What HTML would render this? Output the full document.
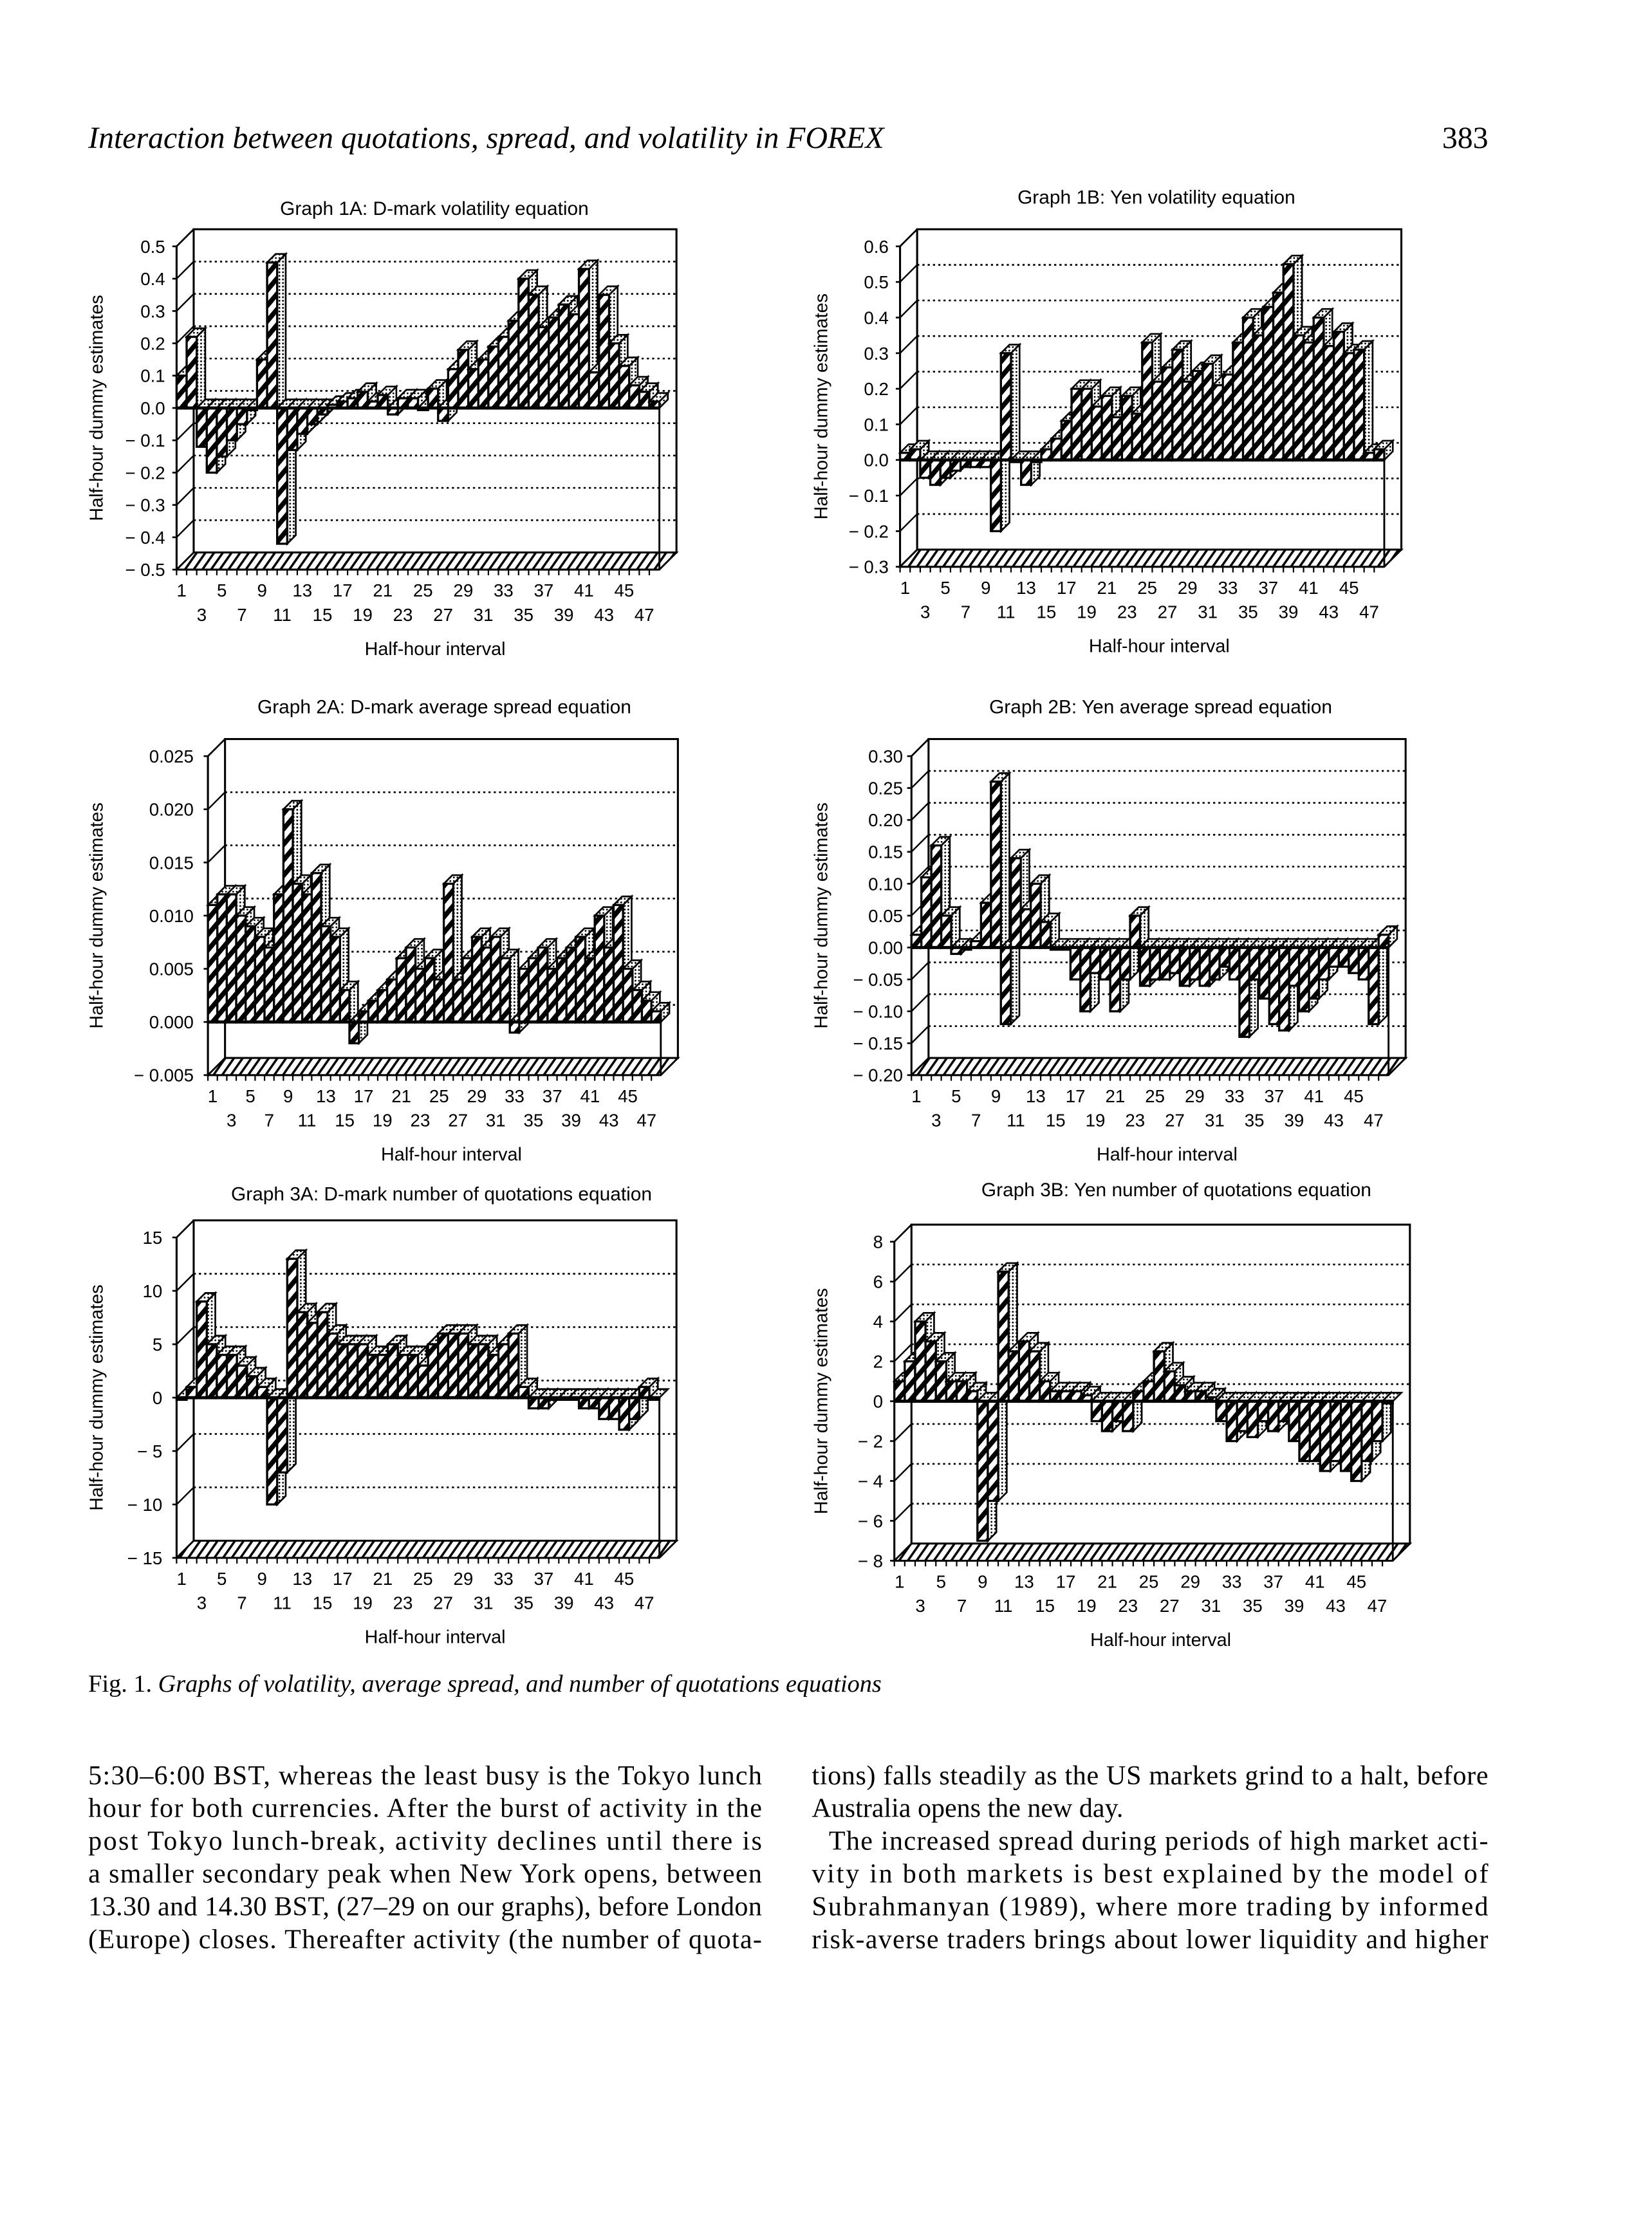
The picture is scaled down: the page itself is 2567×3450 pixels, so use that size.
<!DOCTYPE html>
<html><head><meta charset="utf-8"><style>
html,body{margin:0;padding:0;background:#fff}
svg{display:block}
</style></head><body>
<svg id="pg" xmlns="http://www.w3.org/2000/svg" width="2567" height="3450" viewBox="0 0 1160 1559" preserveAspectRatio="none" font-family="'Liberation Sans', sans-serif">
<defs>
<pattern id="hatch" patternUnits="userSpaceOnUse" width="7" height="7" patternTransform="rotate(40)">
<rect width="7" height="7" fill="#fff"/><rect x="0" y="0" width="3.4" height="7" fill="#000"/></pattern>
<pattern id="dots" patternUnits="userSpaceOnUse" width="2.5" height="2.5">
<rect width="2.5" height="2.5" fill="#fff"/><circle cx="1.2" cy="1.2" r="0.65" fill="#000"/></pattern>
<pattern id="floor" patternUnits="userSpaceOnUse" width="5" height="5" patternTransform="rotate(35)">
<rect width="5" height="5" fill="#fff"/><rect width="1.6" height="5" fill="#000"/></pattern>
</defs>
<g font-family="'Liberation Serif', serif" font-size="21.6">
<text x="62" y="104" font-style="italic">Interaction between quotations, spread, and volatility in FOREX</text>
<text x="1045" y="104" text-anchor="end">383</text>
</g>
<g id="charts"></g>
<text x="62" y="1188" font-family="'Liberation Serif', serif" font-size="17.3">Fig. 1. <tspan font-style="italic">Graphs of volatility, average spread, and number of quotations equations</tspan></text>
<g font-family="'Liberation Serif', serif" font-size="19">
<text x="62" y="1253" textLength="473" lengthAdjust="spacing">5:30–6:00 BST, whereas the least busy is the Tokyo lunch</text>
<text x="62" y="1276" textLength="473" lengthAdjust="spacing">hour for both currencies. After the burst of activity in the</text>
<text x="62" y="1299" textLength="473" lengthAdjust="spacing">post Tokyo lunch-break, activity declines until there is</text>
<text x="62" y="1322" textLength="473" lengthAdjust="spacing">a smaller secondary peak when New York opens, between</text>
<text x="62" y="1345" textLength="473" lengthAdjust="spacing">13.30 and 14.30 BST, (27–29 on our graphs), before London</text>
<text x="62" y="1368" textLength="473" lengthAdjust="spacing">(Europe) closes. Thereafter activity (the number of quota-</text>
<text x="570" y="1253" textLength="475" lengthAdjust="spacing">tions) falls steadily as the US markets grind to a halt, before</text>
<text x="570" y="1276">Australia opens the new day.</text>
<text x="582" y="1299" textLength="463" lengthAdjust="spacing">The increased spread during periods of high market acti-</text>
<text x="570" y="1322" textLength="475" lengthAdjust="spacing">vity in both markets is best explained by the model of</text>
<text x="570" y="1345" textLength="475" lengthAdjust="spacing">Subrahmanyan (1989), where more trading by informed</text>
<text x="570" y="1368" textLength="475" lengthAdjust="spacing">risk-averse traders brings about lower liquidity and higher</text>
</g>
</svg>
<script>
const intervals = Array.from({length:48},(_,i)=>i+1);
const volDM = [0.1,0.22,-0.12,-0.2,-0.15,-0.1,-0.05,0.0,0.15,0.45,-0.42,-0.13,-0.08,-0.05,-0.02,0.01,0.02,0.03,0.05,0.02,0.04,-0.02,0.03,0.03,0.0,0.06,-0.04,0.12,0.18,0.12,0.15,0.19,0.22,0.27,0.4,0.35,0.25,0.28,0.32,0.29,0.43,0.11,0.35,0.2,0.13,0.07,0.05,0.02];
const volYen = [0.02,0.03,-0.05,-0.07,-0.05,-0.03,-0.02,-0.02,-0.02,-0.2,0.3,0.0,-0.07,0.0,0.03,0.06,0.11,0.2,0.2,0.15,0.18,0.12,0.18,0.13,0.33,0.22,0.26,0.31,0.22,0.25,0.27,0.21,0.24,0.33,0.4,0.35,0.43,0.47,0.55,0.35,0.33,0.4,0.32,0.36,0.3,0.31,0.02,0.03];
const sprDM = [0.011,0.012,0.012,0.010,0.009,0.008,0.007,0.012,0.020,0.013,0.012,0.014,0.009,0.008,0.003,-0.002,0.001,0.002,0.003,0.004,0.006,0.007,0.005,0.006,0.004,0.013,0.004,0.006,0.008,0.007,0.008,0.006,-0.001,0.005,0.006,0.007,0.005,0.006,0.007,0.008,0.006,0.010,0.007,0.011,0.005,0.003,0.002,0.001];
const sprYen = [0.02,0.11,0.16,0.05,-0.01,0.0,0.01,0.07,0.26,-0.12,0.14,0.06,0.10,0.04,0.0,0.0,-0.05,-0.10,-0.04,-0.05,-0.10,-0.05,0.05,-0.06,-0.05,-0.05,-0.04,-0.06,-0.05,-0.06,-0.05,-0.03,-0.05,-0.14,-0.05,-0.08,-0.12,-0.13,-0.06,-0.10,-0.08,-0.05,-0.03,-0.03,-0.04,-0.05,-0.12,0.02];
const quoDM = [0,1,9,5,4,4,3,2,1,-10,-7,13,8,7,8,6,5,5,5,4,4,5,4,4,3,5,6,6,6,5,5,4,5,6,1,-1,-1,0,0,0,-1,-1,-2,-2,-3,-2,1,0];
const quoYen = [1,2,4,3,2,1,1,0.5,-7,-5,6.5,2.5,3,2.5,1,0.5,0.5,0.5,0.3,-1,-1.5,-1,-1.5,0.5,1,2.5,1.5,0.8,0.5,0.5,0.2,-1,-2,-1.5,-1.8,-1,-1.5,-1,-2,-3,-3,-3.5,-3,-3.5,-4,-3,-2,0];
const ticks1A = [0.5,0.4,0.3,0.2,0.1,0.0,-0.1,-0.2,-0.3,-0.4,-0.5];
const ticks1B = [0.6,0.5,0.4,0.3,0.2,0.1,0.0,-0.1,-0.2,-0.3];
const ticks2A = [0.025,0.020,0.015,0.010,0.005,0.000,-0.005];
const ticks2B = [0.30,0.25,0.20,0.15,0.10,0.05,0.00,-0.05,-0.10,-0.15,-0.20];
const ticks3A = [15,10,5,0,-5,-10,-15];
const ticks3B = [8,6,4,2,0,-2,-4,-6,-8];
const xRow1 = [1,5,9,13,17,21,25,29,33,37,41,45];
const xRow2 = [3,7,11,15,19,23,27,31,35,39,43,47];

const NS='http://www.w3.org/2000/svg';
const root=document.getElementById('charts');
function mk(tag,attrs,parent){const e=document.createElementNS(NS,tag);for(const k in attrs)e.setAttribute(k,attrs[k]);(parent||root).appendChild(e);return e;}
function fmt(v,dec){const s=Math.abs(v).toFixed(dec);return v<0?'\u2212 '+s:s;}

function chart(o,data,ticks){
  const g=mk('g',{});
  
  
  const dx=12,dy=-12;
  const vmax=ticks[0],vmin=ticks[ticks.length-1];
  const y=v=>o.yTop+(vmax-v)/(vmax-vmin)*(o.yBot-o.yTop);
  const w=(o.xR-o.xL)/intervals.length;
  const x=i=>o.xL+(i-1)*w;
  const t=mk('text',{x:o.tx,y:o.ty,'text-anchor':'middle','font-size':13.5},g);t.textContent=o.title;
  
  const bw=mk('rect',{x:o.xL+dx,y:o.yTop+dy,width:o.xR-o.xL,height:o.yBot-o.yTop,fill:'none',stroke:'#000','stroke-width':1.4},g);
  
  ticks.forEach(v=>{
    if(v===vmax||v===vmin)return;
    const gl=mk('line',{x1:o.xL+dx,x2:o.xR+dx,y1:y(v)+dy,y2:y(v)+dy,stroke:'#000','stroke-width':1.2,'stroke-dasharray':'1.5 2.2'},g);
    
  });
  const ax=mk('line',{x1:o.xL,x2:o.xL,y1:o.yTop,y2:o.yBot,stroke:'#000','stroke-width':1.4},g);
  
  mk('line',{x1:o.xL,y1:o.yTop,x2:o.xL+dx,y2:o.yTop+dy,stroke:'#000','stroke-width':1.2},g);
  ticks.forEach(v=>{
    mk('line',{x1:o.xL-3,x2:o.xL,y1:y(v),y2:y(v),stroke:'#000','stroke-width':1.2},g);
    mk('line',{x1:o.xL,x2:o.xL+dx,y1:y(v),y2:y(v)+dy,stroke:'#000','stroke-width':1.1},g);
    const tl=mk('text',{x:o.lx,y:y(v)+4.5,'text-anchor':'end','font-size':12.5},g);
    tl.textContent=fmt(v,o.dec);
    
  });
  const fl=mk('path',{d:`M${o.xL},${o.yBot}L${o.xR},${o.yBot}L${o.xR+dx},${o.yBot+dy}L${o.xL+dx},${o.yBot+dy}Z`,fill:'url(#floor)',stroke:'#000','stroke-width':1.3},g);
  
  mk('line',{x1:o.xR,x2:o.xR,y1:y(0),y2:o.yBot,stroke:'#000','stroke-width':1.3},g);
  intervals.forEach(i=>{mk('line',{x1:x(i),x2:x(i),y1:o.yBot,y2:o.yBot+4,stroke:'#000','stroke-width':1},g);});
  mk('line',{x1:o.xL,x2:o.xR,y1:o.yBot,y2:o.yBot,stroke:'#000','stroke-width':1.3},g);
  const bars=mk('g',{},g);
  
  data.forEach((v,k)=>{
    const i=intervals[k];
    const x0=x(i),x1=x0+w,y0=y(0),yv=y(v);
    const top=Math.min(y0,yv),bot=Math.max(y0,yv);
    const bd=6,bdy=-6;
    const side=mk('path',{d:`M${x1},${top}L${x1+bd},${top+bdy}L${x1+bd},${bot+bdy}L${x1},${bot}Z`,fill:'url(#dots)',stroke:'#000','stroke-width':1.2},bars);
    
    const tp=mk('path',{d:`M${x0},${top}L${x0+bd},${top+bdy}L${x1+bd},${top+bdy}L${x1},${top}Z`,fill:'url(#dots)',stroke:'#000','stroke-width':1.2},bars);
    
    const fr=mk('rect',{x:x0,y:top,width:w,height:Math.max(bot-top,1.5),fill:'url(#hatch)',stroke:'#000','stroke-width':1.5},bars);
    
  });
  const zl=mk('line',{x1:o.xL,x2:o.xR,y1:y(0),y2:y(0),stroke:'#000','stroke-width':2.2},g);
  
  xRow1.forEach(i=>{const e=mk('text',{x:x(i)+w/2,y:o.yBot+19,'text-anchor':'middle','font-size':12.5},g);e.textContent=i;
    });
  xRow2.forEach(i=>{const e=mk('text',{x:x(i)+w/2,y:o.yBot+36,'text-anchor':'middle','font-size':12.5},g);e.textContent=i;
    });
  const xt=mk('text',{x:(o.xL+o.xR)/2+12,y:o.yBot+60,'text-anchor':'middle','font-size':13},g);xt.textContent='Half-hour interval';
  
  const cy=(o.yTop+o.yBot)/2;
  const yt=mk('text',{x:o.yx,y:cy,'text-anchor':'middle','font-size':13,transform:`rotate(-90 ${o.yx} ${cy})`},g);yt.textContent='Half-hour dummy estimates';
  
}
chart({name:'graph-1a',title:'Graph 1A: D-mark volatility equation',tx:305,ty:151,xL:124,xR:463,yTop:173,yBot:400,lx:116,dec:1,yx:72},volDM,ticks1A);
chart({name:'graph-1b',title:'Graph 1B: Yen volatility equation',tx:812,ty:143,xL:632,xR:972,yTop:173,yBot:398,lx:624,dec:1,yx:581},volYen,ticks1B);
chart({name:'graph-2a',title:'Graph 2A: D-mark average spread equation',tx:312,ty:501,xL:146,xR:464,yTop:531,yBot:755,lx:136,dec:3,yx:72},sprDM,ticks2A);
chart({name:'graph-2b',title:'Graph 2B: Yen average spread equation',tx:815,ty:501,xL:640,xR:975,yTop:531,yBot:755,lx:634,dec:2,yx:581},sprYen,ticks2B);
chart({name:'graph-3a',title:'Graph 3A: D-mark number of quotations equation',tx:310,ty:843,xL:124,xR:463,yTop:869,yBot:1094,lx:114,dec:0,yx:72},quoDM,ticks3A);
chart({name:'graph-3b',title:'Graph 3B: Yen number of quotations equation',tx:826,ty:840,xL:628,xR:978,yTop:872,yBot:1096,lx:620,dec:0,yx:581},quoYen,ticks3B);
</script>
</body></html>
